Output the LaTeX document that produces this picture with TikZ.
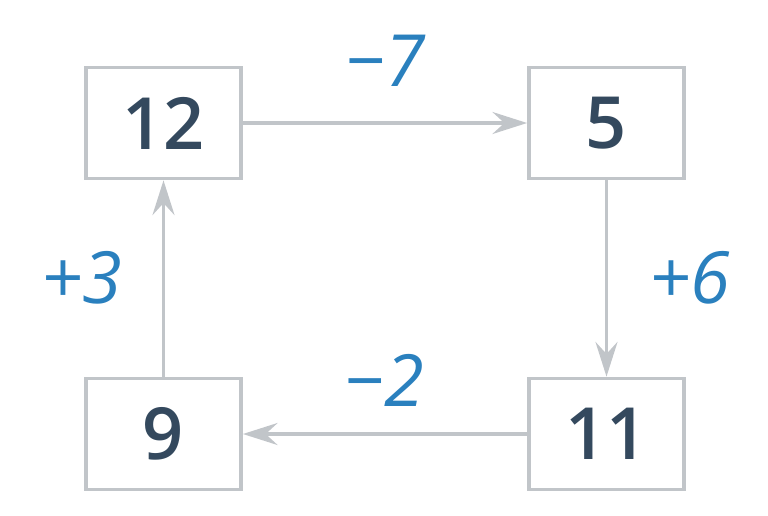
\documentclass[tikz,border=0pt]{standalone}
\usepackage{fontspec}
\setmainfont{Open Sans}
\newfontfamily\numfont{Open Sans Semibold}
\usetikzlibrary{arrows.meta}
\definecolor{boxgrey}{HTML}{C1C5C9}
\definecolor{numnavy}{HTML}{34495E}
\definecolor{signblue}{HTML}{2A80BE}
\begin{document}
\begin{tikzpicture}
[x=0.75pt, y=-0.75pt,
numbox/.style={draw=boxgrey, line width=2.6pt, minimum width=116.5pt, minimum height=83.5pt,
               inner sep=0pt, text=numnavy, font=\fontsize{54}{60}\numfont},
signlabel/.style={inner sep=0pt, text=signblue, font=\fontsize{54}{60}\selectfont\itshape},
link/.style={draw=boxgrey, line width=2.6pt, -{Stealth[length=26pt, width=16.5pt, inset=9pt]}}
]
\useasboundingbox (0,0) rectangle (768,515);
\node[numbox] (n12) at (163.5,123) {12};
\node[numbox] (n5) at (606.5,123) {5};
\node[numbox] (n11) at (606.5,434) {11};
\node[numbox] (n9) at (163.5,434) {9};
\draw[link] (n12) -- (n5);
\draw[link] (n5) -- (n11);
\draw[link] (n11) -- (n9);
\draw[link] (n9) -- (n12);
\node[signlabel] (s7) at (385,61) {−7};
\node[signlabel] (s6) at (690,278) {+6};
\node[signlabel] (s2) at (384,380) {−2};
\node[signlabel] (s3) at (82,278) {+3};
\end{tikzpicture}
\end{document}
